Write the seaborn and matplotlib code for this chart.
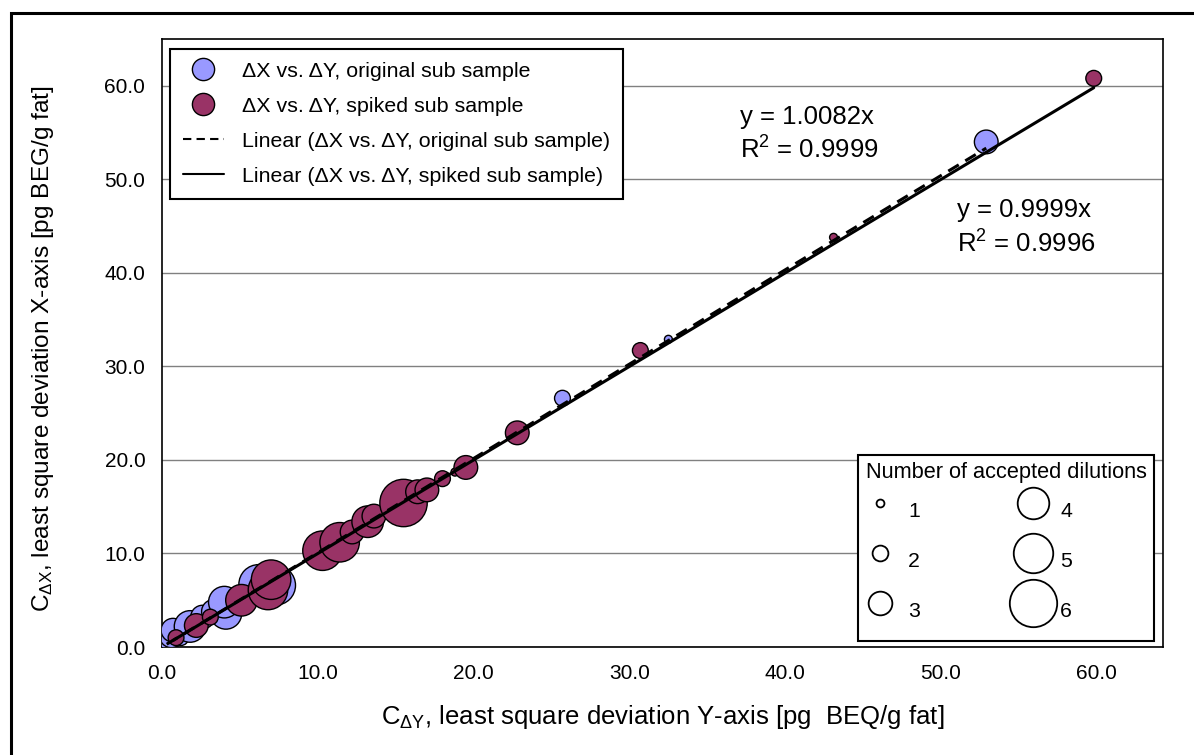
import numpy as np
import pandas as pd
import matplotlib
matplotlib.use('Agg')
import matplotlib.pyplot as plt
import seaborn as sns
from matplotlib.lines import Line2D
from matplotlib.patches import Rectangle

# original sub sample (blue): C_dY on the x axis, C_dX on the y axis, number of accepted dilutions
orig_dy = [0.3, 0.6, 0.7, 1.2, 1.8, 2.6, 3.3, 4.1, 4.0, 6.2, 7.3, 25.7, 32.5, 52.9]
orig_dx = [0.5, 1.2, 1.8, 1.0, 2.2, 3.2, 3.8, 3.6, 4.8, 6.7, 6.6, 26.6, 32.9, 54.0]
orig_n = [3, 3, 3, 2, 4, 3, 3, 4, 4, 5, 5, 2, 1, 3]

# spiked sub sample (red)
spiked_dy = [0.7, 0.9, 2.2, 3.1, 5.1, 6.8, 7.0, 10.3, 11.4, 12.2, 13.2, 13.6, 15.5,
             16.4, 17.0, 18.0, 18.8, 19.5, 22.8, 30.7, 43.1, 59.8]
spiked_dx = [0.8, 1.0, 2.3, 3.2, 5.0, 6.1, 7.2, 10.3, 11.2, 12.3, 13.4, 14.0, 15.4,
             16.6, 16.8, 18.0, 18.7, 19.2, 22.9, 31.7, 43.8, 60.8]
spiked_n = [1, 2, 3, 2, 4, 5, 5, 5, 5, 3, 4, 3, 6, 3, 3, 2, 1, 3, 3, 2, 1, 2]

# trendlines through origin
slope_orig, r2_orig = 1.0082, 0.9999
slope_spiked, r2_spiked = 0.9999, 0.9996

dilution_levels = [1, 2, 3, 4, 5, 6]
tick_values = [0, 10, 20, 30, 40, 50, 60]

blue = '#9999FF'
red = '#993366'

sns.set_style('white')
plt.rcParams['font.family'] = ['Liberation Sans', 'DejaVu Sans']
plt.rcParams['mathtext.fontset'] = 'custom'
plt.rcParams['mathtext.rm'] = 'Liberation Sans'
plt.rcParams['mathtext.it'] = 'Liberation Sans:italic'
for key in ['text.color', 'axes.labelcolor', 'xtick.color', 'ytick.color']:
    plt.rcParams[key] = 'black'

df_orig = pd.DataFrame({'dY': orig_dy, 'dX': orig_dx, 'n': orig_n})
df_spiked = pd.DataFrame({'dY': spiked_dy, 'dX': spiked_dx, 'n': spiked_n})

# bubble diameter ~7.9 px per dilution
def diam_pt(n):
    return 7.9 * n * 0.72

size_map = {n: diam_pt(n) ** 2 for n in dilution_levels}

fig = plt.figure(figsize=(11.94, 7.55), dpi=100)
ax = fig.add_axes([0.1357, 0.1430, 0.8384, 0.8053])

sns.scatterplot(data=df_orig, x='dY', y='dX', size='n', sizes=size_map, color=blue,
                edgecolor='black', linewidth=1, legend=False, ax=ax, zorder=3)
sns.scatterplot(data=df_spiked, x='dY', y='dX', size='n', sizes=size_map, color=red,
                edgecolor='black', linewidth=1, legend=False, ax=ax, zorder=4)

xo = np.array([min(orig_dy), max(orig_dy)])
xs = np.array([min(spiked_dy), max(spiked_dy)])
ax.plot(xo, slope_orig * xo, color='black', lw=2.2, ls=(0, (4, 2.5)), zorder=5)
ax.plot(xs, slope_spiked * xs, color='black', lw=2.2, zorder=5)

ax.set_xlim(0, 64.25)
ax.set_ylim(0, 65)
ax.set_xticks(tick_values)
ax.set_yticks(tick_values)
ax.set_xticklabels([f'{v:.1f}' for v in tick_values], fontsize=15)
ax.set_yticklabels([f'{v:.1f}' for v in tick_values], fontsize=15)
ax.tick_params(direction='out', length=6, width=1, color='black', pad=6)
ax.grid(axis='y', color='#808080', lw=1)
ax.set_axisbelow(True)
for s in ax.spines.values():
    s.set_color('black')
    s.set_linewidth(1.2)

ax.set_xlabel('C$_{\\mathrm{ΔY}}$, least square deviation Y-axis [pg  BEQ/g fat]', fontsize=18.5)
ax.set_ylabel('C$_{\\mathrm{ΔX}}$, least square deviation X-axis [pg BEG/g fat]', fontsize=17.6)
ax.xaxis.set_label_coords(0.5, -0.092)
ax.yaxis.set_label_coords(-0.106, 0.49)

ax.text(0.577, 0.872, f'y = {slope_orig:.4f}x', transform=ax.transAxes, fontsize=18.5, va='center')
ax.text(0.577, 0.818, f'R$^2$ = {r2_orig:.4f}', transform=ax.transAxes, fontsize=18.5, va='center')
ax.text(0.794, 0.719, f'y = {slope_spiked:.4f}x', transform=ax.transAxes, fontsize=18.5, va='center')
ax.text(0.794, 0.663, f'R$^2$ = {r2_spiked:.4f}', transform=ax.transAxes, fontsize=18.5, va='center')

series_handles = [
    Line2D([], [], marker='o', ls='none', markersize=16, markerfacecolor=blue,
           markeredgecolor='black', markeredgewidth=1),
    Line2D([], [], marker='o', ls='none', markersize=16, markerfacecolor=red,
           markeredgecolor='black', markeredgewidth=1),
    Line2D([], [], color='black', lw=1.5, ls=(0, (4, 2.5))),
    Line2D([], [], color='black', lw=1.5),
]
series_labels = ['ΔX vs. ΔY, original sub sample', 'ΔX vs. ΔY, spiked sub sample',
                 'Linear (ΔX vs. ΔY, original sub sample)', 'Linear (ΔX vs. ΔY, spiked sub sample)']
leg1 = ax.legend(series_handles, series_labels, loc='upper left', bbox_to_anchor=(0.008, 0.984),
                 fontsize=15.4, frameon=True, fancybox=False, edgecolor='black', framealpha=1,
                 handlelength=1.9, handletextpad=0.85, labelspacing=0.75, borderpad=0.6,
                 borderaxespad=0)
leg1.get_frame().set_linewidth(1.5)
ax.add_artist(leg1)

size_handles = [Line2D([], [], marker='o', ls='none', markersize=diam_pt(n), markerfacecolor='white',
                       markeredgecolor='black', markeredgewidth=1.3) for n in dilution_levels]
leg2 = ax.legend(size_handles, [str(n) for n in dilution_levels], ncol=2,
                 title='Number of accepted dilutions', title_fontsize=15.7, fontsize=15.3,
                 loc='lower right', bbox_to_anchor=(0.991, 0.01), frameon=True, fancybox=False,
                 edgecolor='black', framealpha=1, handleheight=2.88, handlelength=1.4,
                 handletextpad=0.6, labelspacing=0.235, columnspacing=4.6, borderpad=0.36,
                 borderaxespad=0, alignment='left')
leg2.get_frame().set_linewidth(1.5)

# outer chart frame
fig.patches.append(Rectangle((11 / 1194, -0.05), 1.1, 1 - 13 / 755 + 0.05, transform=fig.transFigure,
                             fill=False, edgecolor='black', lw=2.2))

fig.savefig('out.png', dpi=100)
